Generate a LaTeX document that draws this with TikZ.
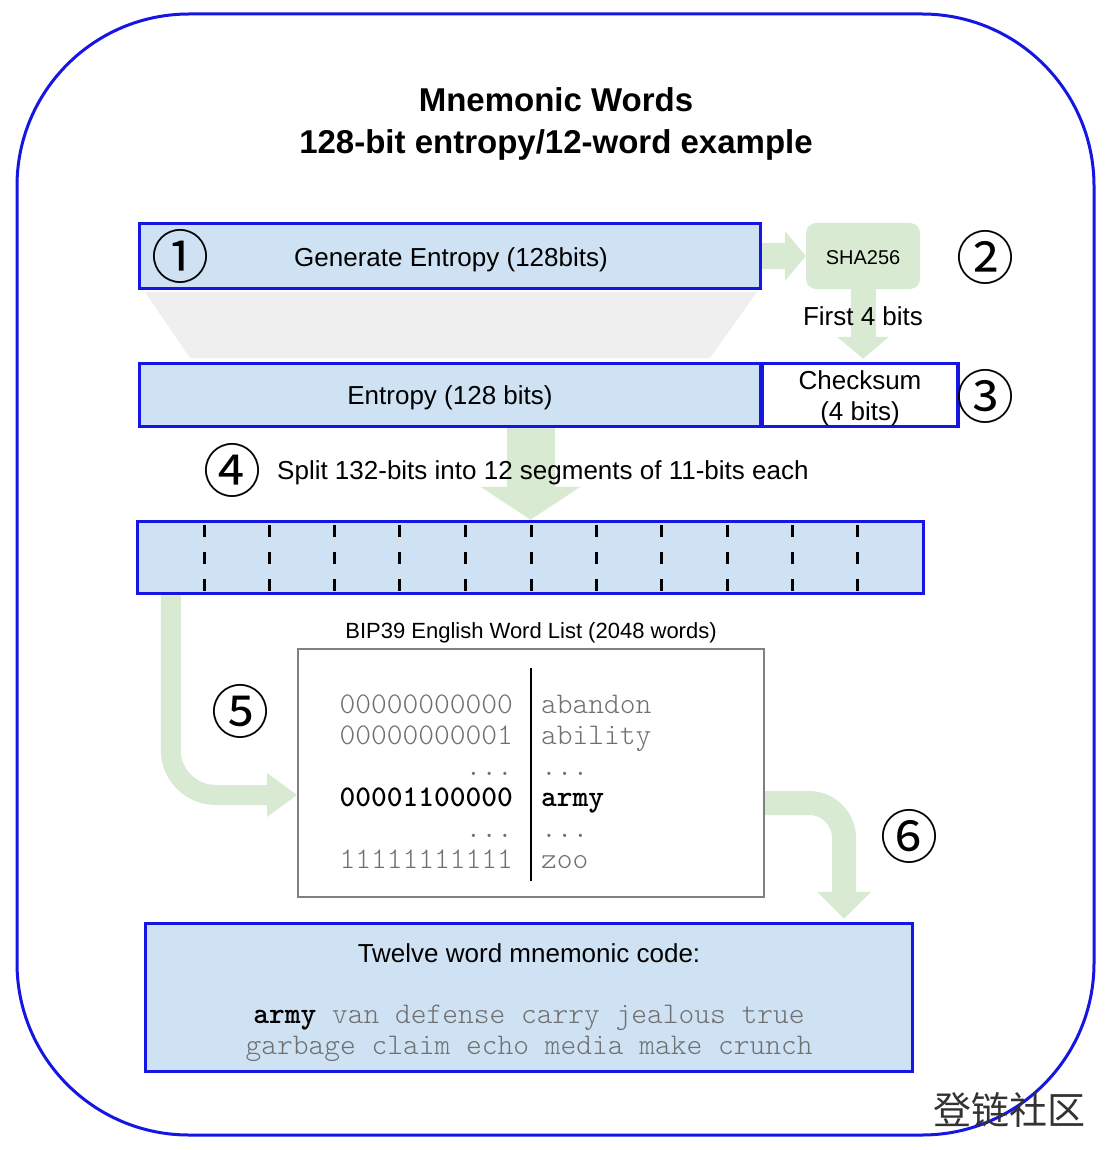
\documentclass[tikz,border=0pt]{standalone}
\usepackage{fontspec}
\setmainfont{Liberation Sans}
\newfontfamily\cour{lmmonolt10-regular}[Extension=.otf, BoldFont=lmmonolt10-bold]
\newfontfamily\cjk{Noto Sans CJK SC}
\usetikzlibrary{arrows.meta,calc,backgrounds}
\definecolor{bblue}{RGB}{22,22,228}
\definecolor{lblue}{RGB}{207,226,243}
\definecolor{lgreen}{RGB}{217,234,211}
\definecolor{tgray}{RGB}{112,112,112}
\definecolor{trapgray}{RGB}{239,239,239}
\definecolor{wlgray}{RGB}{128,128,128}
\begin{document}
\begin{tikzpicture}[x=1pt,y=-1pt,
  box/.style={draw=bblue, line width=3.5pt, fill=lblue, inner sep=0pt},
  txt/.style={font=\fontsize{26}{31}\selectfont, inner sep=0pt},
  titlef/.style={font=\bfseries\fontsize{33}{40}\selectfont, inner sep=0pt},
  mono/.style={font=\cour\fontsize{30}{31}\selectfont, text=tgray, inner sep=0pt},
  monob/.style={font=\cour\bfseries\fontsize{30}{31}\selectfont, text=black, inner sep=0pt},
  circnum/.style={font=\cjk\fontsize{58}{58}\selectfont, inner sep=0pt},
  garrow/.style={draw=lgreen, line width=#1},
]
\useasboundingbox (0,0) rectangle (1112,1150);
% outer frame
\draw[bblue, line width=3pt, rounded corners=172pt] (17,14) rectangle (1094,1135);

% title
\node[titlef, anchor=base] (t1) at (556,112) {Mnemonic Words};
\node[titlef, anchor=base] (t2) at (556,154) {128-bit entropy/12-word example};

% funnel
\fill[trapgray] (145,292) -- (757,292) -- (710,358) -- (190,358) -- cycle;

% boxes
\node[box, minimum width=621pt, minimum height=65pt] (gen) at (450,256) {};
\node[fill=lgreen, rounded corners=10pt, minimum width=114pt, minimum height=66pt, inner sep=0pt] (sha) at (863,256) {};
\node[box, minimum width=621pt, minimum height=63pt] (ent) at (450,395) {};
\node[box, fill=white, minimum width=196pt, minimum height=63pt] (chk) at (860,395) {};
\node[box, minimum width=786pt, minimum height=72pt] (seg) at (530.5,557.5) {};
\node[draw=wlgray, line width=2pt, fill=white, minimum width=466pt, minimum height=248pt, inner sep=0pt] (wl) at (531,773) {};
\node[box, minimum width=767pt, minimum height=148pt] (code) at (529,997.5) {};

% green block arrows (behind the boxes)
\begin{pgfonlayer}{background}
\draw[garrow=25pt, -{Triangle[width=50pt,length=21pt,line width=0pt]}] (gen.east) -- (sha.west);
\draw[garrow=25pt, -{Triangle[width=52pt,length=22pt,line width=0pt]}] (sha.south) -- ($(sha.south |- chk.north)+(0,-3)$);
\draw[garrow=48pt, -{Triangle[width=100pt,length=33pt,line width=0pt]}] (seg.north |- ent.south) -- (seg.north);
\draw[garrow=20pt, rounded corners=45pt, -{Triangle[width=44pt,length=30pt,line width=0pt]}]
  ($(seg.south west)+(35,0)$) |- ($(wl.west)+(0,22)$);
\draw[garrow=24pt, rounded corners=35pt, -{Triangle[width=54pt,length=27pt,line width=0pt]}]
  ($(wl.east)+(0,30)$) -| ($(code.north)+(315,-3)$);
\end{pgfonlayer}

% box texts
\node[txt, anchor=base] (gent) at (451,266) {Generate Entropy (128bits)};
\node[font=\fontsize{20}{24}\selectfont, inner sep=0pt, anchor=base] (shat) at (863,264) {SHA256};
\node[txt, anchor=base] (entt) at (450,404) {Entropy (128 bits)};
\node[txt, anchor=base] (chk1) at (860,389) {Checksum};
\node[txt, anchor=base] (chk2) at (860,420) {(4 bits)};

% segment dividers
\foreach \x in {204,269,334,399,465,531,596,661,727,792,857}
  \draw[black, line width=3pt, dash pattern=on 12pt off 15pt] (\x,525) -- (\x,592);

% labels
\node[txt, anchor=base] (first) at (863,325) {First 4 bits};
\node[txt, anchor=base west] (split) at (277,479) {Split 132-bits into 12 segments of 11-bits each};
\node[font=\fontsize{22}{26}\selectfont, inner sep=0pt, anchor=base] (bip) at (531,638) {BIP39 English Word List (2048 words)};

% word list
\draw[black, line width=2pt] (531,668) -- (531,881);
\node[mono, anchor=base east] (l1) at (513,713) {00000000000};
\node[mono, anchor=base west] (r1) at (541,713) {abandon};
\node[mono, anchor=base east] (l2) at (513,744) {00000000001};
\node[mono, anchor=base west] (r2) at (541,744) {ability};
\node[mono, anchor=base east] (l3) at (513,775) {...};
\node[mono, anchor=base west] (r3) at (541,775) {...};
\node[monob, anchor=base east] (l4) at (513,806) {00001100000};
\node[monob, anchor=base west] (r4) at (541,806) {army};
\node[mono, anchor=base east] (l5) at (513,837) {...};
\node[mono, anchor=base west] (r5) at (541,837) {...};
\node[mono, anchor=base east] (l6) at (513,868) {11111111111};
\node[mono, anchor=base west] (r6) at (541,868) {zoo};

% mnemonic code
\node[txt, anchor=base] (codet) at (529,962) {Twelve word mnemonic code:};
\node[mono, anchor=base] (code1) at (529,1023) {{\bfseries\color{black}army} van defense carry jealous true};
\node[mono, anchor=base] (code2) at (529,1054) {garbage claim echo media make crunch};

% step numbers
\node[circnum] (n1) at (180,256) {①};
\node[circnum] (n2) at (985,257) {②};
\node[circnum] (n3) at (985,396) {③};
\node[circnum] (n4) at (232,470) {④};
\node[circnum] (n5) at (240,711) {⑤};
\node[circnum] (n6) at (909,836) {⑥};

% watermark
\node[font=\cjk\fontsize{38}{38}\selectfont, text=black!80, inner sep=0pt] (wm) at (1009,1110) {登链社区};
\end{tikzpicture}
\end{document}
